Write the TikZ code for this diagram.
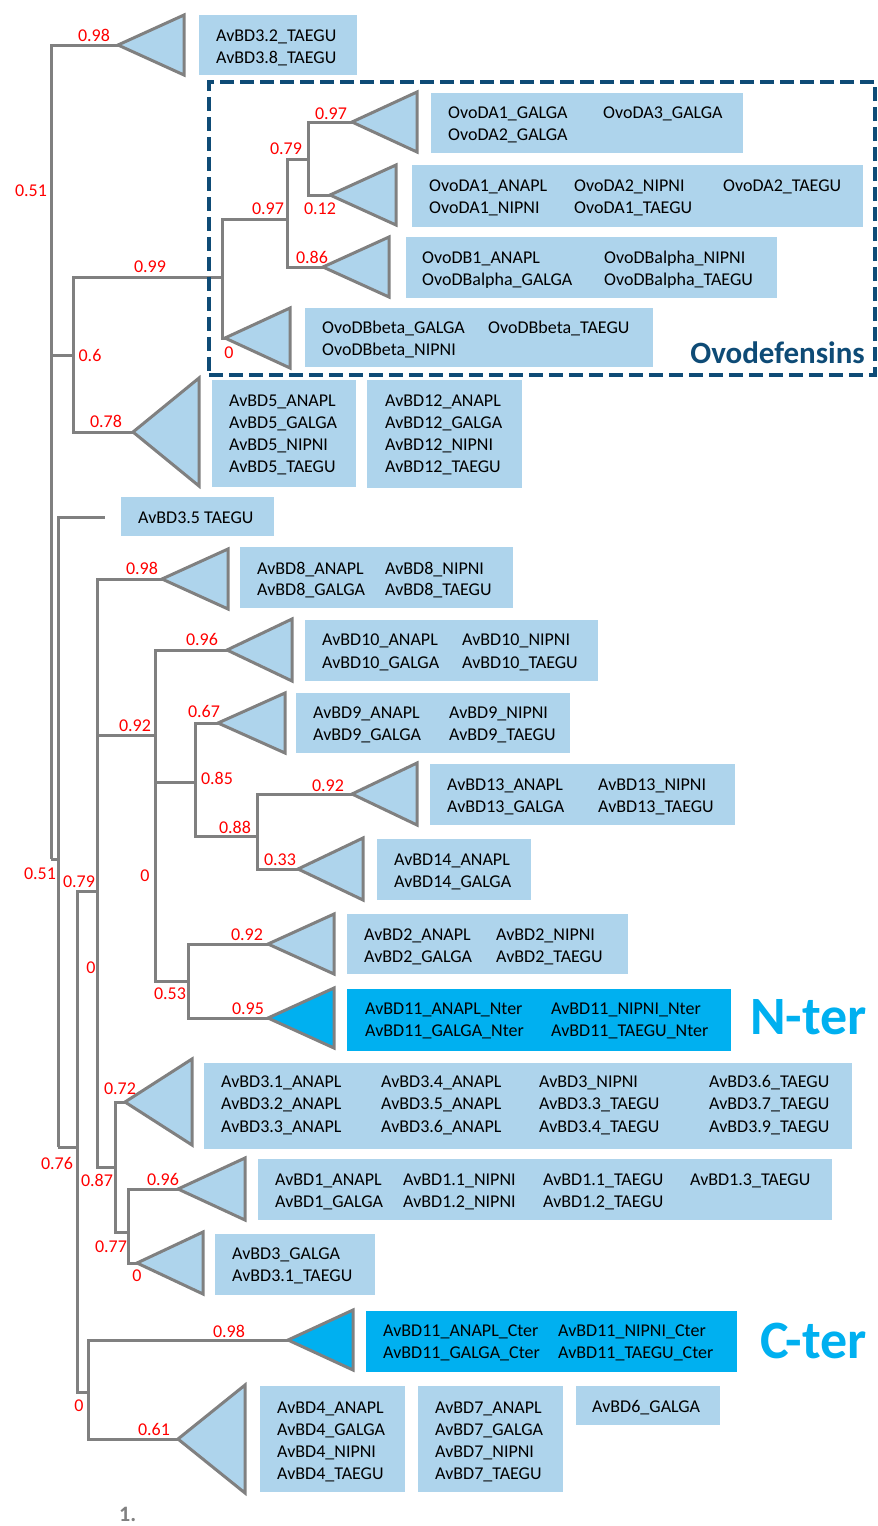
\documentclass[tikz,border=0pt]{standalone}
\usepackage{fontspec}
\setmainfont{Carlito}
\usetikzlibrary{fit}
\definecolor{treegray}{RGB}{128,128,128}
\definecolor{lblue}{RGB}{174,212,236}
\definecolor{cyanb}{RGB}{0,176,240}
\definecolor{navy}{RGB}{14,75,118}
\newcommand\clade[6]{%
  \coordinate (#1) at (#2,#3);
  \draw[#6] (#1) -- (#4,{#3-#5}) -- (#4,{#3+#5}) -- cycle;}
\newcommand\lbox[6]{%
  \node[#1, fit={(#3,#4) (#5,#6)}] (#2) {};}
\begin{document}
\begin{tikzpicture}[x=1pt,y=-1pt,
  br/.style={draw=treegray, line width=3pt},
  tri/.style={draw=treegray, line width=3pt, fill=lblue},
  trid/.style={tri, fill=cyanb},
  box/.style={fill=lblue, draw=none, inner sep=0pt, outer sep=0pt},
  boxd/.style={box, fill=cyanb},
  dbox/.style={draw=navy, line width=4pt, dash pattern=on 14pt off 6pt, inner sep=0pt},
  lbl/.style={anchor=base west, inner sep=0pt, text=black, font=\fontsize{18}{22}\selectfont},
  bs/.style={anchor=base, inner sep=0pt, text=red, font=\fontsize{18}{22}\selectfont},
  big/.style={anchor=base east, inner sep=0pt, text=cyanb, font=\fontsize{54}{60}\selectfont\bfseries}]
\useasboundingbox (0,0) rectangle (878,1526);

% internal nodes
\coordinate (R1) at (51,859);
\coordinate (R2) at (58,1147);
\coordinate (R3) at (77,1147);
\coordinate (N06) at (73,355);
\coordinate (N099) at (222,277);
\coordinate (N097b) at (287,219);
\coordinate (N079o) at (308,159);
\coordinate (N079) at (97,891);
\coordinate (N092) at (155,735);
\coordinate (N085) at (195,782);
\coordinate (N088) at (257,836);
\coordinate (N053) at (188,981);
\coordinate (N087) at (115,1167);
\coordinate (N077) at (128,1232);
\coordinate (N0low) at (88,1392);
\coordinate (L35) at (105,517);
% clade apexes
\coordinate (T1) at (118,45);
\coordinate (T097) at (352,122);
\coordinate (T012) at (330,195);
\coordinate (T086) at (323,267);
\coordinate (TOb) at (225,338);
\coordinate (T5) at (133,432);
\coordinate (T8) at (162,579);
\coordinate (T10) at (227,650);
\coordinate (T9) at (218,723);
\coordinate (T13) at (352,794);
\coordinate (T14) at (298,869);
\coordinate (T2) at (268,944);
\coordinate (TN) at (268,1018);
\coordinate (T31) at (125,1102);
\coordinate (T1a) at (178,1189);
\coordinate (T3G) at (137,1263);
\coordinate (TC) at (288,1340);
\coordinate (T4) at (178,1439);

% branches
\draw[br] (R3) |- (R2);
\draw[br] (R3) |- (N079);
\draw[br] (R3) |- (N0low);
\draw[br] (R2) |- (R1);
\draw[br] (R2) |- (L35);
\draw[br] (R1) |- (T1);
\draw[br] (R1) |- (N06);
\draw[br] (N06) |- (N099);
\draw[br] (N06) |- (T5);
\draw[br] (N099) |- (N097b);
\draw[br] (N099) |- (TOb);
\draw[br] (N097b) |- (N079o);
\draw[br] (N097b) |- (T086);
\draw[br] (N079o) |- (T097);
\draw[br] (N079o) |- (T012);
\draw[br] (N079) |- (T8);
\draw[br] (N079) |- (N092);
\draw[br] (N079) |- (N087);
\draw[br] (N092) |- (T10);
\draw[br] (N092) |- (N085);
\draw[br] (N092) |- (N053);
\draw[br] (N085) |- (T9);
\draw[br] (N085) |- (N088);
\draw[br] (N088) |- (T13);
\draw[br] (N088) |- (T14);
\draw[br] (N053) |- (T2);
\draw[br] (N053) |- (TN);
\draw[br] (N087) |- (T31);
\draw[br] (N087) |- (N077);
\draw[br] (N077) |- (T1a);
\draw[br] (N077) |- (T3G);
\draw[br] (N0low) |- (TC);
\draw[br] (N0low) |- (T4);

% triangles
\clade{c1}{118}{45}{184}{30}{tri}
\clade{c2}{352}{122}{417}{30}{tri}
\clade{c3}{330}{195}{396}{30}{tri}
\clade{c4}{323}{267}{389}{30}{tri}
\clade{c5}{225}{338}{290}{30}{tri}
\clade{c6}{133}{432}{199}{54}{tri}
\clade{c7}{162}{579}{228}{30}{tri}
\clade{c8}{227}{650}{292}{31}{tri}
\clade{c9}{218}{723}{285}{30}{tri}
\clade{c10}{352}{794}{417}{31}{tri}
\clade{c11}{298}{869}{363}{31}{tri}
\clade{c12}{268}{944}{334}{30}{tri}
\clade{c13}{268}{1018}{334}{30}{trid}
\clade{c14}{125}{1102}{192}{43}{tri}
\clade{c15}{178}{1189}{245}{31}{tri}
\clade{c16}{137}{1263}{203}{31}{tri}
\clade{c17}{288}{1340}{353}{30}{trid}
\clade{c18}{178}{1439}{245}{54}{tri}

% boxes
\lbox{box}{b1}{199}{15}{357}{75}
\lbox{box}{b2}{431}{93}{743}{153}
\lbox{box}{b3}{412}{165}{863}{227}
\lbox{box}{b4}{406}{237}{777}{298}
\lbox{box}{b5}{305}{308}{653}{367}
\lbox{box}{b6}{212}{380}{356}{487}
\lbox{box}{b7}{367}{380}{522}{488}
\lbox{box}{b8}{121}{497}{274}{536}
\lbox{box}{b9}{240}{547}{513}{608}
\lbox{box}{b10}{305}{620}{598}{681}
\lbox{box}{b11}{296}{693}{570}{753}
\lbox{box}{b12}{430}{764}{735}{825}
\lbox{box}{b13}{377}{839}{531}{900}
\lbox{box}{b14}{347}{914}{628}{974}
\lbox{boxd}{b15}{347}{989}{731}{1051}
\lbox{box}{b16}{204}{1063}{852}{1149}
\lbox{box}{b17}{258}{1159}{832}{1220}
\lbox{box}{b18}{215}{1234}{375}{1295}
\lbox{boxd}{b19}{366}{1311}{737}{1372}
\lbox{box}{b20}{260}{1386}{405}{1492}
\lbox{box}{b21}{418}{1386}{563}{1492}
\lbox{box}{b22}{576}{1386}{720}{1425}
\node[dbox, fit={(209,82) (875,375)}] (ovo) {};

% leaf texts
\foreach \x/\y/\t [count=\i] in {
 216/41/AvBD3.2\_TAEGU, 216/63/AvBD3.8\_TAEGU,
 448/118/OvoDA1\_GALGA, 603/118/OvoDA3\_GALGA, 448/140/OvoDA2\_GALGA,
 429/191/OvoDA1\_ANAPL, 574/191/OvoDA2\_NIPNI, 723/191/OvoDA2\_TAEGU,
 429/213/OvoDA1\_NIPNI, 574/213/OvoDA1\_TAEGU,
 422/263/OvoDB1\_ANAPL, 604/263/OvoDBalpha\_NIPNI,
 422/285/OvoDBalpha\_GALGA, 604/285/OvoDBalpha\_TAEGU,
 322/333/OvoDBbeta\_GALGA, 488/333/OvoDBbeta\_TAEGU, 322/355/OvoDBbeta\_NIPNI,
 229/406/AvBD5\_ANAPL, 229/428/AvBD5\_GALGA, 229/450/AvBD5\_NIPNI, 229/472/AvBD5\_TAEGU,
 385/406/AvBD12\_ANAPL, 385/428/AvBD12\_GALGA, 385/450/AvBD12\_NIPNI, 385/472/AvBD12\_TAEGU,
 138/523/AvBD3.5 TAEGU,
 257/574/AvBD8\_ANAPL, 385/574/AvBD8\_NIPNI, 257/595/AvBD8\_GALGA, 385/595/AvBD8\_TAEGU,
 322/645/AvBD10\_ANAPL, 462/645/AvBD10\_NIPNI, 322/668/AvBD10\_GALGA, 462/668/AvBD10\_TAEGU,
 313/718/AvBD9\_ANAPL, 449/718/AvBD9\_NIPNI, 313/740/AvBD9\_GALGA, 449/740/AvBD9\_TAEGU,
 447/790/AvBD13\_ANAPL, 598/790/AvBD13\_NIPNI, 447/812/AvBD13\_GALGA, 598/812/AvBD13\_TAEGU,
 394/865/AvBD14\_ANAPL, 394/887/AvBD14\_GALGA,
 364/940/AvBD2\_ANAPL, 496/940/AvBD2\_NIPNI, 364/962/AvBD2\_GALGA, 496/962/AvBD2\_TAEGU,
 365/1014/AvBD11\_ANAPL\_Nter, 551/1014/AvBD11\_NIPNI\_Nter,
 365/1036/AvBD11\_GALGA\_Nter, 551/1036/AvBD11\_TAEGU\_Nter,
 221/1087/AvBD3.1\_ANAPL, 221/1109/AvBD3.2\_ANAPL, 221/1132/AvBD3.3\_ANAPL,
 381/1087/AvBD3.4\_ANAPL, 381/1109/AvBD3.5\_ANAPL, 381/1132/AvBD3.6\_ANAPL,
 539/1087/AvBD3\_NIPNI, 539/1109/AvBD3.3\_TAEGU, 539/1132/AvBD3.4\_TAEGU,
 709/1087/AvBD3.6\_TAEGU, 709/1109/AvBD3.7\_TAEGU, 709/1132/AvBD3.9\_TAEGU,
 275/1185/AvBD1\_ANAPL, 403/1185/AvBD1.1\_NIPNI, 543/1185/AvBD1.1\_TAEGU, 690/1185/AvBD1.3\_TAEGU,
 275/1207/AvBD1\_GALGA, 403/1207/AvBD1.2\_NIPNI, 543/1207/AvBD1.2\_TAEGU,
 232/1259/AvBD3\_GALGA, 232/1281/AvBD3.1\_TAEGU,
 383/1336/AvBD11\_ANAPL\_Cter, 558/1336/AvBD11\_NIPNI\_Cter,
 383/1358/AvBD11\_GALGA\_Cter, 558/1358/AvBD11\_TAEGU\_Cter,
 277/1413/AvBD4\_ANAPL, 277/1435/AvBD4\_GALGA, 277/1457/AvBD4\_NIPNI, 277/1479/AvBD4\_TAEGU,
 435/1413/AvBD7\_ANAPL, 435/1435/AvBD7\_GALGA, 435/1457/AvBD7\_NIPNI, 435/1479/AvBD7\_TAEGU,
 592/1412/AvBD6\_GALGA}
  \node[lbl] (t\i) at (\x,\y) {\t};

% support values
\foreach \x/\y/\t [count=\i] in {
 94/41/0.98, 31/196/0.51, 331/119/0.97, 286/154/0.79, 268/214/0.97, 320/214/0.12,
 312/263/0.86, 150/272/0.99, 229/358/0, 90/361/0.6, 106/427/0.78, 142/574/0.98,
 202/645/0.96, 204/717/0.67, 135/731/0.92, 217/784/0.85, 328/791/0.92, 235/833/0.88,
 280/865/0.33, 145/881/0, 40/879/0.51, 79/887/0.79, 91/973/0, 247/940/0.92,
 170/999/0.53, 248/1014/0.95, 120/1094/0.72, 57/1169/0.76, 97/1186/0.87,
 163/1185/0.96, 111/1252/0.77, 137/1281/0, 229/1337/0.98, 79/1411/0, 154/1435/0.61}
  \node[bs] (s\i) at (\x,\y) {\t};

% group titles
\node[anchor=base east, inner sep=0pt, text=navy, font=\fontsize{31}{36}\selectfont\bfseries] (ovot) at (865,363) {Ovodefensins};
\node[big] (nter) at (867,1034) {N-ter};
\node[big] (cter) at (867,1358) {C-ter};
\node[anchor=base west, inner sep=0pt, text=treegray, font=\fontsize{22}{26}\selectfont\bfseries] (fig) at (119,1521) {1.};
\end{tikzpicture}
\end{document}
